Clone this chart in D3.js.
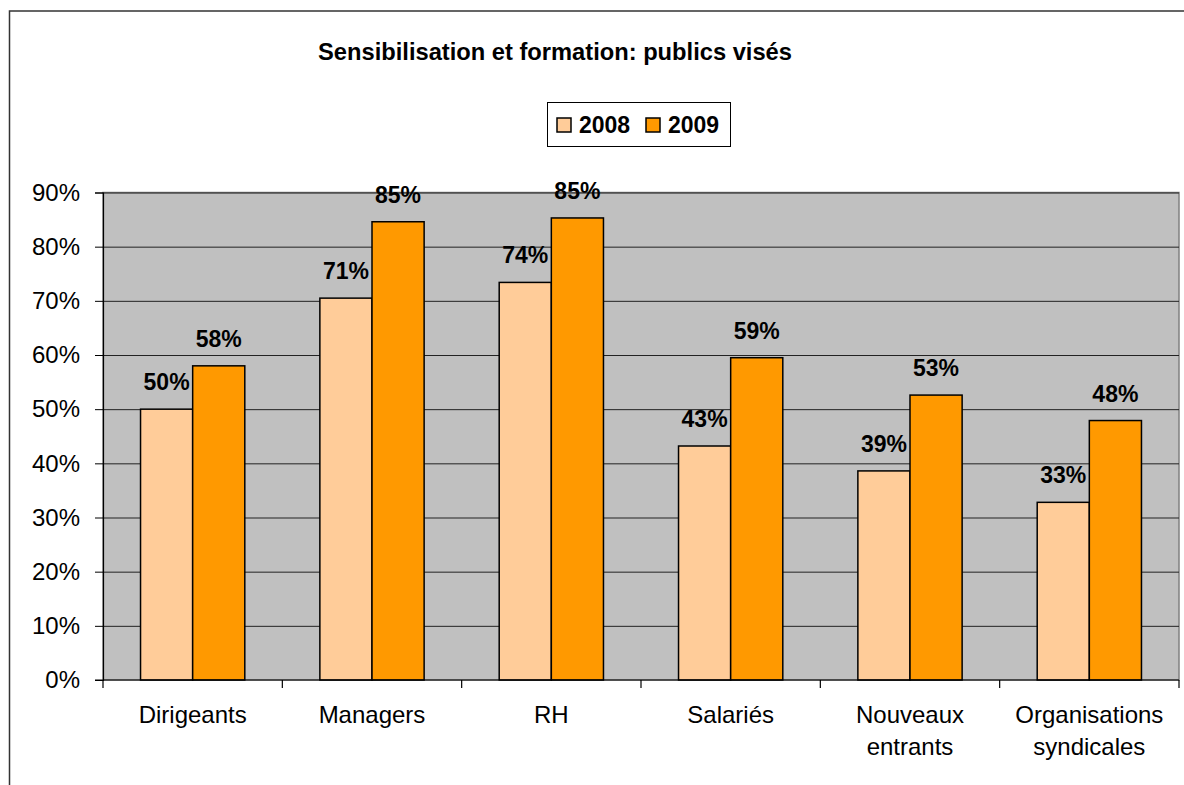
<!DOCTYPE html>
<html>
<head>
<meta charset="utf-8">
<script src="https://cdn.jsdelivr.net/npm/d3@7"></script>
<style>
  body { margin: 0; background: #fff; }
  text { font-family: Arial, "Liberation Sans", sans-serif; }
</style>
</head>
<body>
<svg id="mainSvg" width="1184" height="785"></svg>
<script>
// chart data
var categories = ["Dirigeants", "Managers", "RH", "Salariés", "Nouveaux\nentrants", "Organisations\nsyndicales"];
var series = ["2008", "2009"];
var values2008 = [0.50, 0.705, 0.734, 0.432, 0.386, 0.328];
var values2009 = [0.58, 0.846, 0.853, 0.595, 0.526, 0.479];
var labels2008 = ["50%", "71%", "74%", "43%", "39%", "33%"];
var labels2009 = ["58%", "85%", "85%", "59%", "53%", "48%"];
var yTicks = [0, 0.1, 0.2, 0.3, 0.4, 0.5, 0.6, 0.7, 0.8, 0.9];

var colors = {"2008": "#FFCC99", "2009": "#FF9900"};

var rows = categories.map(function(c, i) {
  return {cat: c, vals: [
    {s: "2008", v: values2008[i], label: labels2008[i]},
    {s: "2009", v: values2009[i], label: labels2009[i]}
  ]};
});

var plotLeft = 103, plotRight = 1179, plotTop = 192.5, plotBottom = 680;

var x0 = d3.scaleBand().domain(categories).range([plotLeft, plotRight]).padding(0);
var x1 = d3.scaleBand().domain(series).range([0, x0.bandwidth()]).paddingInner(0).paddingOuter(0.72);
var y = d3.scaleLinear().domain([0, 0.9]).range([plotBottom, plotTop]);

var svg = d3.select("#mainSvg");

// outer chart border (cut by the window)
svg.append("rect")
  .attr("x", 9.5).attr("y", 11)
  .attr("width", 1300).attr("height", 900)
  .attr("fill", "#fff")
  .attr("stroke", "#333").attr("stroke-width", 1.5);

// title
svg.append("text")
  .attr("x", 555).attr("y", 60)
  .attr("text-anchor", "middle")
  .style("font-size", "23.7px").style("font-weight", "bold")
  .text("Sensibilisation et formation: publics visés");

// legend
var legend = svg.append("g");
legend.append("rect")
  .attr("x", 547.5).attr("y", 102.5).attr("width", 183).attr("height", 44)
  .attr("fill", "#fff").attr("stroke", "#000").attr("stroke-width", 1);
series.forEach(function(s, i) {
  var lx = 557 + i * 89;
  legend.append("rect")
    .attr("x", lx).attr("y", 118).attr("width", 14).attr("height", 14)
    .attr("fill", colors[s]).attr("stroke", "#000").attr("stroke-width", 1.5);
  legend.append("text")
    .attr("x", lx + 22).attr("y", 133)
    .style("font-size", "23px").style("font-weight", "bold")
    .text(s);
});

// plot background
svg.append("rect")
  .attr("x", plotLeft).attr("y", plotTop)
  .attr("width", plotRight - plotLeft).attr("height", plotBottom - plotTop)
  .attr("fill", "#C0C0C0").attr("stroke", "#808080").attr("stroke-width", 1.5);

// gridlines
svg.append("g")
  .attr("transform", "translate(" + plotLeft + ",0)")
  .call(d3.axisLeft(y).tickValues(yTicks.slice(1)).tickSize(-(plotRight - plotLeft)).tickFormat(""))
  .call(function(g) {
    g.select(".domain").remove();
    g.selectAll("line").attr("stroke", "#222").attr("stroke-width", 1);
  });

// y axis
svg.append("g")
  .attr("transform", "translate(" + plotLeft + ",0)")
  .call(d3.axisLeft(y).tickValues(yTicks).tickSize(8).tickPadding(15)
    .tickFormat(function(d) { return Math.round(d * 100) + "%"; }))
  .call(function(g) {
    g.select(".domain").attr("stroke", "#000").attr("stroke-width", 1.2);
    g.selectAll("line").attr("stroke", "#000");
    g.selectAll("text")
      .attr("fill", "#000")
      .style("font-size", "24px")
      .attr("dy", "0.32em");
  });

// bars
var groups = svg.selectAll(".grp")
  .data(rows)
  .enter().append("g")
  .attr("class", "grp")
  .attr("transform", function(d) { return "translate(" + x0(d.cat) + ",0)"; });

groups.selectAll("rect")
  .data(function(d) { return d.vals; })
  .enter().append("rect")
  .attr("x", function(d) { return x1(d.s); })
  .attr("width", x1.bandwidth())
  .attr("y", function(d) { return y(d.v); })
  .attr("height", function(d) { return plotBottom - y(d.v); })
  .attr("fill", function(d) { return colors[d.s]; })
  .attr("stroke", "#000").attr("stroke-width", 1.5);

groups.selectAll(".lbl")
  .data(function(d) { return d.vals; })
  .enter().append("text")
  .attr("class", "lbl")
  .attr("x", function(d) { return x1(d.s) + x1.bandwidth() / 2; })
  .attr("y", function(d) { return y(d.v) - 19; })
  .attr("text-anchor", "middle")
  .style("font-size", "23px").style("font-weight", "bold")
  .text(function(d) { return d.label; });

// x axis
var xAxis = svg.append("g");
xAxis.append("line")
  .attr("x1", plotLeft - 8).attr("x2", plotRight)
  .attr("y1", plotBottom).attr("y2", plotBottom)
  .attr("stroke", "#000").attr("stroke-width", 1.2);
var bounds = categories.map(function(c) { return x0(c); }).concat([plotRight]);
xAxis.selectAll(".tk")
  .data(bounds)
  .enter().append("line")
  .attr("x1", function(d) { return d; }).attr("x2", function(d) { return d; })
  .attr("y1", plotBottom).attr("y2", plotBottom + 8)
  .attr("stroke", "#000").attr("stroke-width", 1.2);
var xl = xAxis.selectAll(".xl")
  .data(categories)
  .enter().append("text")
  .attr("text-anchor", "middle")
  .style("font-size", "24px");
xl.each(function(c) {
  var t = d3.select(this);
  c.split("\n").forEach(function(line, i) {
    t.append("tspan")
      .attr("x", x0(c) + x0.bandwidth() / 2)
      .attr("y", 723 + i * 32)
      .text(line);
  });
});
</script>
</body>
</html>
